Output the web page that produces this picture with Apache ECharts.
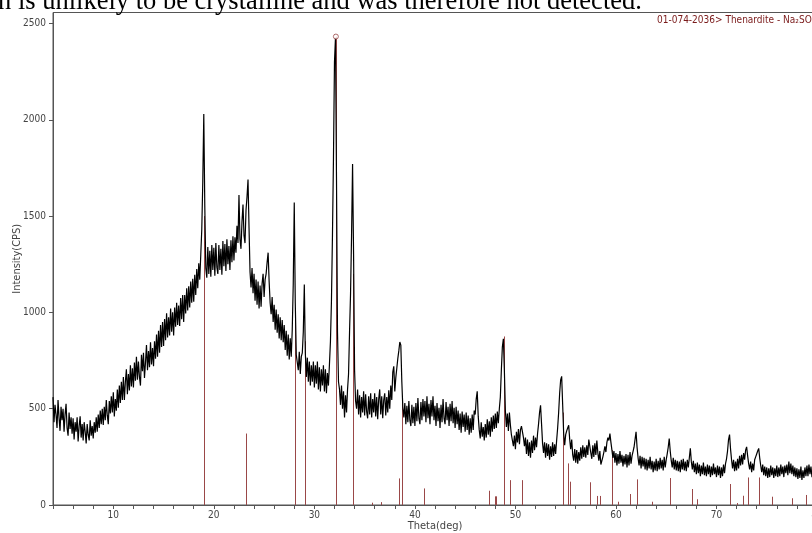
<!DOCTYPE html>
<html><head><meta charset="utf-8">
<script src="https://cdn.jsdelivr.net/npm/echarts@6/dist/echarts.min.js"></script>
<style>html,body{margin:0;padding:0;background:#fff;overflow:hidden}#c{width:812px;height:533px}</style>
</head><body><div id="c"></div>
<script>
// ---- data ----
const thetaStart = 4.0;
const thetaStep = 0.1;
const intensity = [
 560,430,520,470,400,545,455,385,510,440,
 500,380,470,525,400,360,480,395,455,370,
 450,340,430,380,455,330,410,460,350,420,
 335,430,380,320,420,365,335,440,360,410,
 345,430,375,455,380,470,400,490,420,500,
 415,510,440,545,465,420,540,475,565,480,
 585,460,550,490,600,505,620,530,640,545,
 665,545,640,705,575,680,595,725,615,710,
 610,740,645,770,650,745,665,620,780,695,
 790,660,740,830,700,800,715,845,730,815,
 720,850,760,885,770,905,790,935,820,950,
 825,965,855,995,870,975,880,1020,900,1000,
 880,1025,925,1050,935,1035,930,1075,965,1090,
 950,1090,995,1125,1010,1135,1025,1160,1050,1175,
 1055,1195,1090,1225,1125,1255,1170,1300,1430,1680,
 2030,1550,1230,1180,1340,1200,1320,1185,1350,1220,
 1335,1190,1360,1235,1200,1350,1220,1330,1195,1370,
 1240,1355,1215,1380,1250,1345,1220,1375,1260,1395,
 1270,1390,1310,1450,1360,1610,1380,1330,1470,1560,
 1400,1360,1530,1600,1690,1440,1210,1130,1230,1100,
 1200,1060,1170,1040,1160,1020,1140,1030,1150,1200,
 1080,1170,1200,1260,1310,1160,1050,990,1080,950,
 1040,910,1015,895,990,865,975,855,960,845,
 935,805,905,775,885,755,865,770,910,1150,
 1570,1050,780,790,700,795,680,770,790,900,
 1145,790,665,765,640,745,620,725,640,745,
 610,725,630,745,600,715,590,705,620,725,
 590,705,580,685,620,730,850,1060,1400,1800,
 2300,2426,1700,900,640,600,520,620,500,590,
 455,570,480,600,680,900,1100,1400,1770,1300,
 700,540,500,600,470,570,455,560,480,590,
 465,575,485,450,565,470,580,455,550,480,
 580,460,560,445,550,600,470,565,450,545,
 580,465,560,480,595,500,620,545,690,720,
 590,660,710,760,800,846,830,640,505,455,
 530,420,515,430,540,440,410,520,425,510,
 410,530,435,555,450,420,535,440,550,460,
 540,430,565,450,525,420,545,460,565,440,
 515,410,530,435,505,400,520,430,550,450,
 420,535,440,510,410,525,435,540,425,505,
 400,510,420,490,390,475,375,485,405,470,
 380,480,390,465,365,450,375,470,390,490,
 470,550,590,460,390,345,430,355,405,335,
 420,350,445,365,435,355,455,380,465,395,
 475,400,485,425,500,560,700,820,863,700,
 490,405,475,385,480,415,365,375,305,360,
 290,380,325,395,315,390,410,414,350,305,
 350,265,340,255,325,245,335,270,360,285,
 350,300,370,420,480,518,420,320,270,325,
 245,320,255,315,235,305,250,325,255,315,
 265,335,400,480,580,650,668,520,370,310,
 365,385,400,414,340,290,340,260,230,290,
 220,285,215,275,230,300,240,310,250,300,
 245,310,260,340,350,270,240,310,250,320,
 260,335,270,230,280,210,200,250,275,305,
 275,325,350,335,371,325,285,245,280,220,
 270,205,265,215,280,220,260,200,255,210,
 265,195,260,205,275,215,255,265,300,340,
 380,300,245,205,255,190,250,200,245,185,
 240,180,235,190,250,185,230,170,225,180,
 240,175,230,185,245,190,235,180,250,195,
 235,265,300,345,280,230,195,245,185,235,
 180,230,175,225,170,235,185,240,180,225,
 175,235,195,245,294,225,185,230,170,215,
 160,220,165,210,150,205,160,220,155,200,
 150,210,160,205,145,200,155,215,160,195,
 145,205,155,200,140,195,150,210,165,215,
 240,280,340,366,290,235,190,235,175,225,
 180,240,190,255,205,260,210,270,235,285,
 302,255,215,185,225,170,215,180,235,250,
 265,280,294,245,205,170,210,155,200,150,
 195,140,190,145,205,155,195,140,190,150,
 205,145,195,150,210,160,200,145,205,165,
 210,155,225,165,215,160,205,150,195,145,
 190,135,185,140,200,130,180,140,195,150,
 205,150,210,160,200,145,195,155,190,150,
 175
];
// Thenardite reference pattern (stick positions and heights)
const refTheta = [19.05,23.15,28.1,29.05,32.14,33.86,35.75,36.6,38.4,38.7,40.9,47.4,47.95,48.05,48.9,49.5,50.7,54.7,55.25,55.4,57.45,58.1,58.4,59.6,60.25,61.4,62.1,63.55,65.35,67.6,68.1,71.3,72.0,72.6,73.1,74.2,75.55,77.5,78.9];
const refIntensity = [1500,371,1000,850,2432,1200,12,15,138,560,86,74,45,45,875,129,129,480,216,121,118,47,47,285,17,57,133,17,140,83,30,109,10,48,143,143,43,35,52];
const peakMarkTheta = [32.14];
const peakMarkCount = [2432];
const xTickValues = [4,6,8,10,12,14,16,18,20,22,24,26,28,30,32,34,36,38,40,42,44,46,48,50,52,54,56,58,60,62,64,66,68,70,72,74,76,78,80];
const xLabelValues = [10,20,30,40,50,60,70,80];
const yLabelValues = [0,500,1000,1500,2000,2500];
const captionText = 'n is unlikely to be crystalline and was therefore not detected.';
const legendText = '01-074-2036> Thenardite - Na\u2082SO\u2084';
const xName = 'Theta(deg)';
const yName = 'Intensity(CPS)';

// ---- chart ----
const lineData = intensity.map((v, i) => [+(thetaStart + i * thetaStep).toFixed(2), v]);
const stickData = refTheta.map((t, i) => [t, refIntensity[i]]);
const markData = peakMarkTheta.map((t, i) => [t, peakMarkCount[i]]);

const FONT = '"Liberation Sans Narrow","DejaVu Sans Condensed","Liberation Sans",Arial,sans-serif';
const AX = '#555';
const STICK = '#9a4848';

const chart = echarts.init(document.getElementById('c'), null, {renderer: 'canvas'});
chart.setOption({
  animation: false,
  backgroundColor: '#fff',
  grid: {left: 53, right: -5, top: 12.5, bottom: 28, outerBoundsMode: 'none', containLabel: false,
         show: true, borderColor: AX, borderWidth: 1, backgroundColor: 'transparent'},
  xAxis: {
    type: 'value', min: 4, max: 80,
    axisLine: {lineStyle: {color: AX, width: 1}},
    axisTick: {show: true, customValues: xTickValues, length: 4, lineStyle: {color: AX}},
    axisLabel: {customValues: xLabelValues, color: '#444', fontSize: 10, margin: 5, fontFamily: FONT,
                formatter: v => String(v)},
    splitLine: {show: false},
    name: xName, nameLocation: 'middle', nameGap: 16, nameMoveOverlap: false,
    nameTextStyle: {color: '#444', fontSize: 11, fontFamily: FONT}
  },
  yAxis: {
    type: 'value', min: 0, max: 2557,
    axisLine: {show: true, lineStyle: {color: AX, width: 1}},
    axisTick: {show: true, customValues: yLabelValues, length: 4, lineStyle: {color: AX}},
    axisLabel: {customValues: yLabelValues, color: '#444', fontSize: 10, margin: 7, fontFamily: FONT,
                formatter: v => String(v)},
    splitLine: {show: false},
    name: yName, nameLocation: 'middle', nameGap: 30, nameRotate: 90, nameMoveOverlap: false,
    nameTextStyle: {color: '#444', fontSize: 11, fontFamily: FONT}
  },
  series: [
    {
      type: 'custom', z: 1, silent: true, clip: true,
      data: stickData,
      renderItem: function (params, api) {
        const p0 = api.coord([api.value(0), 0]);
        const p1 = api.coord([api.value(0), api.value(1)]);
        const x = Math.round(p0[0]) + 0.5;
        return {type: 'line', shape: {x1: x, y1: p0[1], x2: x, y2: p1[1]}, style: {stroke: STICK, lineWidth: 1}};
      }
    },
    {
      type: 'line', z: 3, silent: true, data: lineData,
      symbol: 'none', showSymbol: false, sampling: null,
      lineStyle: {color: '#000', width: 1.2}
    },
    {
      type: 'scatter', z: 4, silent: true, data: markData,
      symbol: 'circle', symbolSize: 5,
      itemStyle: {color: '#fff', borderColor: STICK, borderWidth: 1}
    }
  ],
  graphic: [
    {type: 'text', left: -2, top: -11, silent: true,
     style: {text: captionText, font: '26.5px "Liberation Serif","Times New Roman",serif', fill: '#000'}},
    {type: 'text', left: 657, top: 15, silent: true,
     style: {text: legendText, font: '10px ' + FONT, fill: '#7a1a1a'}}
  ]
});
</script>
</body></html>
